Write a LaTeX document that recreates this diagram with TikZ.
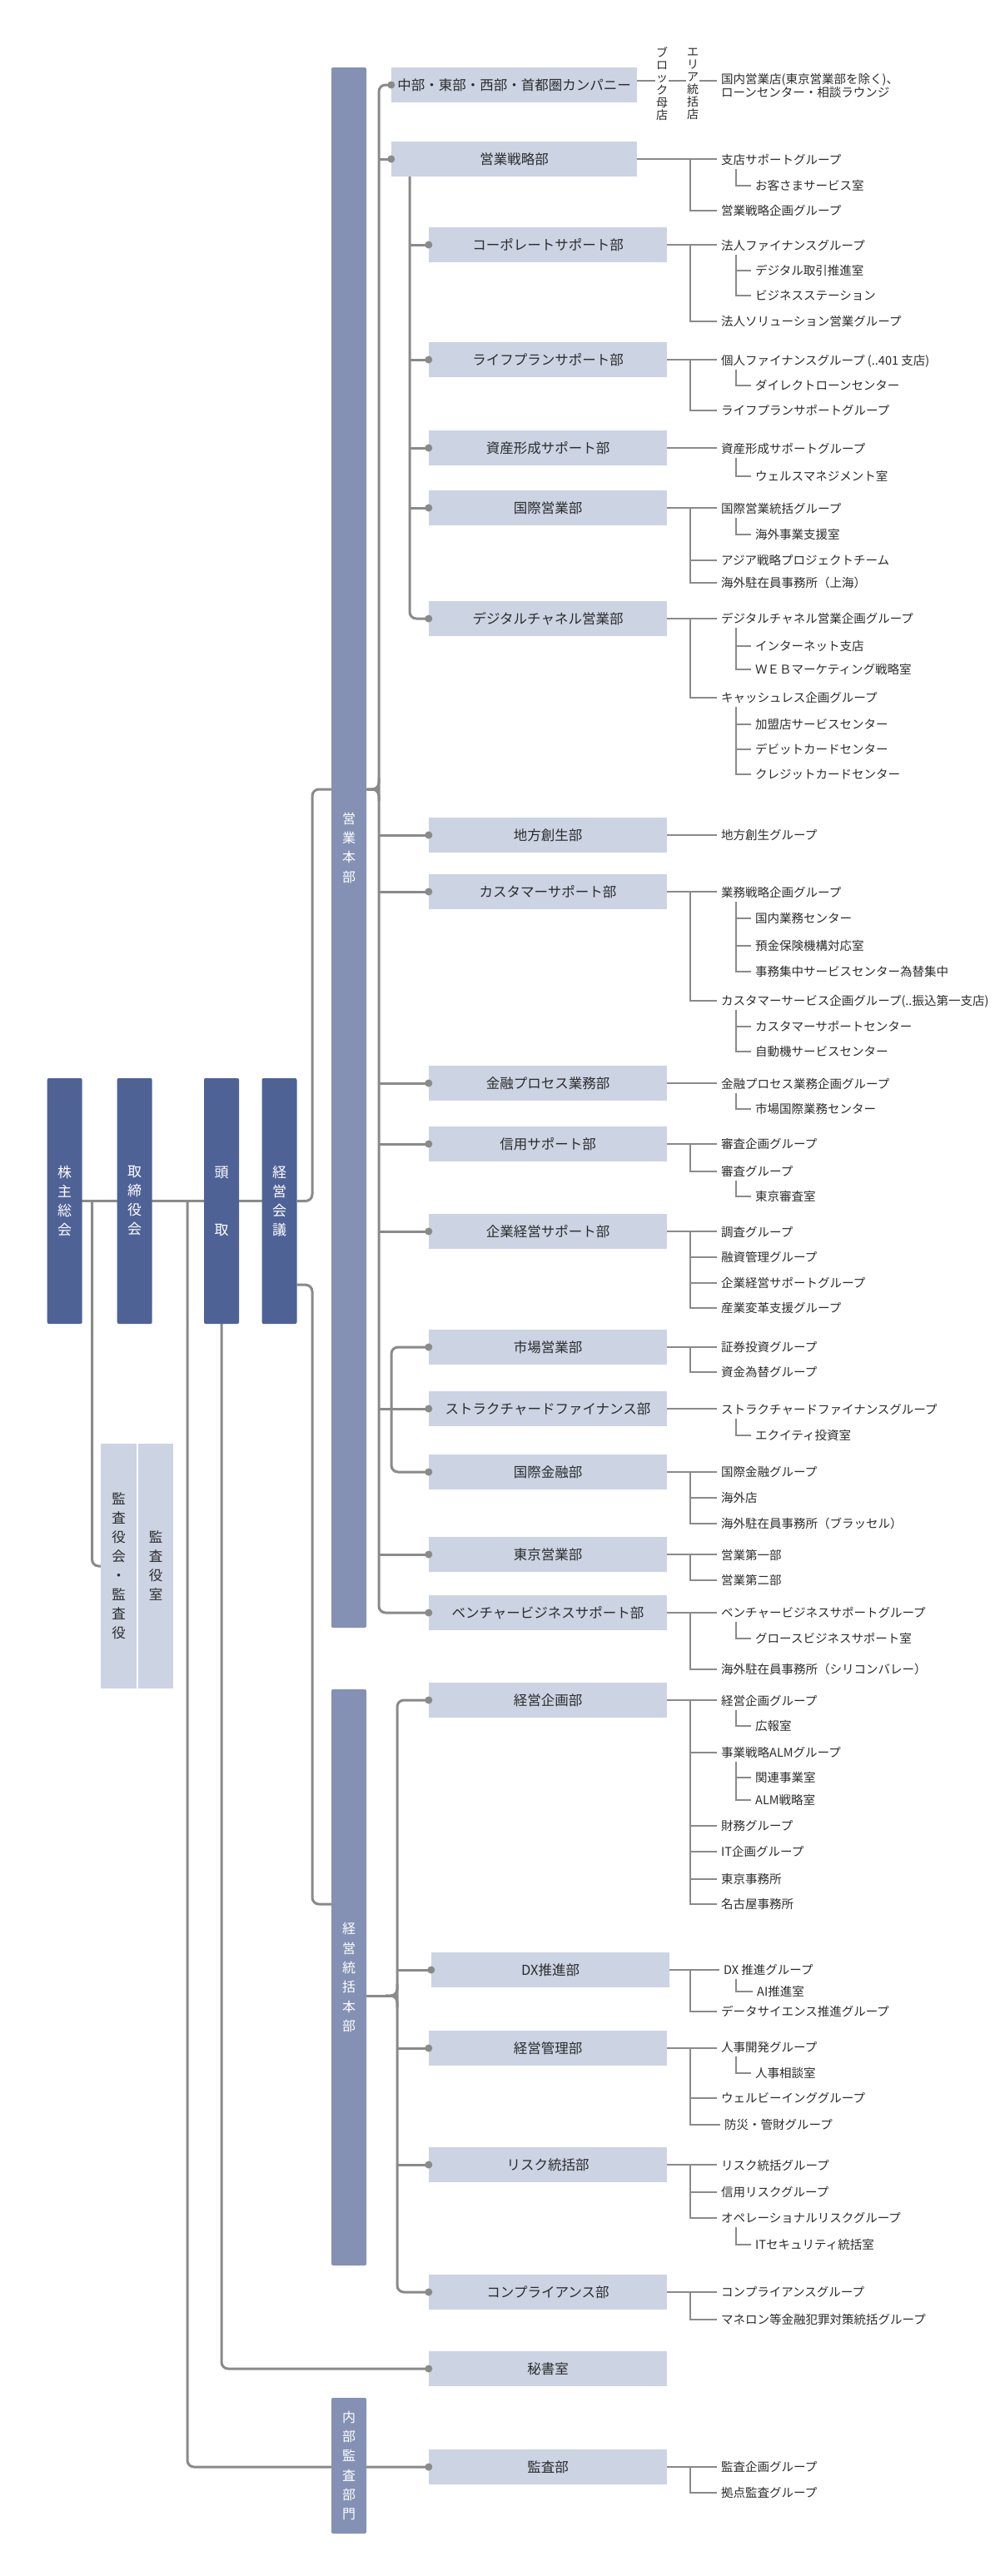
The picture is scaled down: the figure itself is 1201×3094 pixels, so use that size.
\documentclass[tikz,border=0pt]{standalone}
\usepackage{fontspec}
\setmainfont{Noto Sans CJK JP}
\usetikzlibrary{calc}
\pgfdeclarelayer{back}
\pgfdeclarelayer{bg}
\pgfsetlayers{back,bg,main}
\definecolor{linec}{HTML}{8A8A8A}
\definecolor{txtc}{HTML}{2C2C2C}
\definecolor{topc}{HTML}{4F6296}
\definecolor{barc}{HTML}{8491B5}
\definecolor{deptc}{HTML}{CCD3E3}
\newcommand\fDept{\fontsize{16.5}{18}\selectfont}
\newcommand\fGrp{\fontsize{14.5}{16}\selectfont}
\newcommand\fTop{\fontsize{17}{23}\selectfont}
\newcommand\fBar{\fontsize{16}{23.3}\selectfont}
\newcommand\fAud{\fontsize{16.5}{23}\selectfont}
\newcommand\fVl{\fontsize{14}{15}\selectfont}
\tikzset{
 dept/.style={rectangle, fill=deptc, minimum width=286, minimum height=42, inner sep=0, text=txtc, font=\fDept, text height=14.5, text depth=2},
 widedept/.style={dept, minimum width=295},
 grp/.style={anchor=west, inner sep=0, text=txtc, font=\fGrp, text height=12.8, text depth=1.7},
 grptwo/.style={anchor=north west, inner sep=0, text=txtc, font=\fGrp, align=left},
 topbox/.style={rectangle, rounded corners=2, fill=topc, minimum width=42, minimum height=295, inner sep=0, text=white, align=center, font=\fTop},
 barbox/.style={rectangle, rounded corners=2, fill=barc, minimum width=42, inner sep=0, text=white, align=center, font=\fBar},
 audbox/.style={rectangle, fill=deptc, minimum width=43, minimum height=294, inner sep=0, text=txtc, align=center, font=\fAud},
 vlab/.style={inner sep=0, text=txtc, align=center, font=\fVl},
 dot/.style={circle, fill=linec, inner sep=0, minimum size=9},
 trunk/.style={draw=linec, line width=3, rounded corners=8},
 glink/.style={draw=linec, line width=2.2},
}
\newcommand\grpA[3]{\node[grp] (#1) at (866,#2) {#3};}
\newcommand\grpB[3]{\node[grp] (#1) at (907,#2) {#3};}
\newcommand\cnH[2]{\draw[glink] (#1.east) -- ($(#1.east -| #2.west)+(-5,0)$);}
\newcommand\cnV[2]{\draw[glink] (vx |- #1.east) |- ($(#2.west)+(-5,0)$);}
\newcommand\cnS[1]{\draw[glink] (vx |- #1.west) -- ($(#1.west)+(-5,0)$);}
\newcommand\cnSub[2]{\draw[glink] ($(sx |- #1.west)+(0,11)$) |- ($(#2.west)+(-5,0)$);}
\newcommand\cnSm[1]{\draw[glink] (sx |- #1.west) -- ($(#1.west)+(-5,0)$);}
\begin{document}
\begin{tikzpicture}[x=1pt,y=-1pt]
\useasboundingbox (0,0) rectangle (1201,3094);
\begin{pgfonlayer}{back}
\fill[white] (0,0) rectangle (1201,3094);
\end{pgfonlayer}
% helper coordinates
\coordinate (tA) at (455,0);
\coordinate (tB) at (492,0);
\coordinate (tC) at (470,0);
\coordinate (tD) at (477,0);
\coordinate (tL) at (375,0);
\coordinate (tM) at (110.5,0);
\coordinate (tN) at (225,0);
\coordinate (vx) at (829,0);
\coordinate (sx) at (884,0);
\coordinate (jA) at (455,948);
\coordinate (jB) at (398,2287);
\coordinate (jC) at (477,2397);

% top-level boxes
\node[topbox] (kabu) at (77.7,1442.5) {株\\主\\総\\会};
\node[topbox] (tori) at (161.7,1442.5) {取\\締\\役\\会};
\node[topbox] (tou) at (266,1442.5) {頭\\[46pt]取};
\node[topbox] (keikai) at (335.5,1442.5) {経\\営\\会\\議};
\node[audbox] (kyaku) at (142.5,1881) {監\\査\\役\\会\\・\\監\\査\\役};
\node[audbox, minimum width=42] (kshitsu) at (187,1881) {監\\査\\役\\室};

% bars
\node[barbox, minimum height=1874] (eigyo) at (419,1018) {営\\業\\本\\部};
\node[barbox, minimum height=692] (keitou) at (419,2375) {経\\営\\統\\括\\本\\部};
\node[barbox, minimum height=163] (naibu) at (419,2961.5) {内\\部\\監\\査\\部\\門};

% departments
\node[widedept] (c0) at (617.5,102) {中部・東部・西部・首都圏カンパニー};
\node[widedept] (d1) at (617.5,191) {営業戦略部};
\node[dept] (d2) at (658,294) {コーポレートサポート部};
\node[dept] (d3) at (658,432) {ライフプランサポート部};
\node[dept] (d4) at (658,538) {資産形成サポート部};
\node[dept] (d5) at (658,610) {国際営業部};
\node[dept] (d6) at (658,743) {デジタルチャネル営業部};
\node[dept] (d7) at (658,1003) {地方創生部};
\node[dept] (d8) at (658,1071) {カスタマーサポート部};
\node[dept] (d9) at (658,1301) {金融プロセス業務部};
\node[dept] (d10) at (658,1374) {信用サポート部};
\node[dept] (d11) at (658,1479) {企業経営サポート部};
\node[dept] (d12) at (658,1618) {市場営業部};
\node[dept] (d13) at (658,1692) {ストラクチャードファイナンス部};
\node[dept] (d14) at (658,1768) {国際金融部};
\node[dept] (d15) at (658,1867) {東京営業部};
\node[dept] (d16) at (658,1937) {ベンチャービジネスサポート部};
\node[dept] (e1) at (658,2042) {経営企画部};
\node[dept] (e2) at (661,2366) {DX推進部};
\node[dept] (e3) at (658,2460) {経営管理部};
\node[dept] (e4) at (658,2600) {リスク統括部};
\node[dept] (e5) at (658,2753) {コンプライアンス部};
\node[dept] (s1) at (658,2845) {秘書室};
\node[dept] (a1) at (658,2963) {監査部};

% company side labels
\node[vlab] (blk) at (795,101) {ブ\\ロ\\ッ\\ク\\母\\店};
\node[vlab] (area) at (832,101) {エ\\リ\\ア\\統\\括\\店};
\node[grptwo] (kokunai) at (866,88.5) {国内営業店(東京営業部を除く)、\\ローンセンター・相談ラウンジ};

% groups
\grpA{g1a}{192}{支店サポートグループ}
\grpB{g1b}{223}{お客さまサービス室}
\grpA{g1c}{253}{営業戦略企画グループ}

\grpA{g2a}{295}{法人ファイナンスグループ}
\grpB{g2b}{325}{デジタル取引推進室}
\grpB{g2c}{355}{ビジネスステーション}
\grpA{g2d}{386}{法人ソリューション営業グループ}

\grpA{g3a}{433}{個人ファイナンスグループ (..401 支店)}
\grpB{g3b}{463}{ダイレクトローンセンター}
\grpA{g3c}{493}{ライフプランサポートグループ}

\grpA{g4a}{539}{資産形成サポートグループ}
\grpB{g4b}{572}{ウェルスマネジメント室}

\grpA{g5a}{611}{国際営業統括グループ}
\grpB{g5b}{642}{海外事業支援室}
\grpA{g5c}{673}{アジア戦略プロジェクトチーム}
\grpA{g5d}{700}{海外駐在員事務所（上海）}

\grpA{g6a}{743}{デジタルチャネル営業企画グループ}
\grpB{g6b}{776}{インターネット支店}
\grpB{g6c}{804}{ＷＥＢマーケティング戦略室}
\grpA{g6d}{838}{キャッシュレス企画グループ}
\grpB{g6e}{870}{加盟店サービスセンター}
\grpB{g6f}{900}{デビットカードセンター}
\grpB{g6g}{930}{クレジットカードセンター}

\grpA{g7a}{1003}{地方創生グループ}

\grpA{g8a}{1072}{業務戦略企画グループ}
\grpB{g8b}{1103}{国内業務センター}
\grpB{g8c}{1136}{預金保険機構対応室}
\grpB{g8d}{1167}{事務集中サービスセンター為替集中}
\grpA{g8e}{1202}{カスタマーサービス企画グループ(..振込第一支店)}
\grpB{g8f}{1233}{カスタマーサポートセンター}
\grpB{g8g}{1263}{自動機サービスセンター}

\grpA{g9a}{1302}{金融プロセス業務企画グループ}
\grpB{g9b}{1332}{市場国際業務センター}

\grpA{g10a}{1374}{審査企画グループ}
\grpA{g10b}{1407}{審査グループ}
\grpB{g10c}{1437}{東京審査室}

\grpA{g11a}{1480}{調査グループ}
\grpA{g11b}{1510}{融資管理グループ}
\grpA{g11c}{1541}{企業経営サポートグループ}
\grpA{g11d}{1571}{産業変革支援グループ}

\grpA{g12a}{1618}{証券投資グループ}
\grpA{g12b}{1648}{資金為替グループ}

\grpA{g13a}{1693}{ストラクチャードファイナンスグループ}
\grpB{g13b}{1724}{エクイティ投資室}

\grpA{g14a}{1768}{国際金融グループ}
\grpA{g14b}{1799}{海外店}
\grpA{g14c}{1830}{海外駐在員事務所（ブラッセル）}

\grpA{g15a}{1868}{営業第一部}
\grpA{g15b}{1898}{営業第二部}

\grpA{g16a}{1937}{ベンチャービジネスサポートグループ}
\grpB{g16b}{1968}{グロースビジネスサポート室}
\grpA{g16c}{2005}{海外駐在員事務所（シリコンバレー）}

\grpA{h1a}{2043}{経営企画グループ}
\grpB{h1b}{2073}{広報室}
\grpA{h1c}{2105}{事業戦略ALMグループ}
\grpB{h1d}{2135}{関連事業室}
\grpB{h1e}{2162}{ALM戦略室}
\grpA{h1f}{2193}{財務グループ}
\grpA{h1g}{2224}{IT企画グループ}
\grpA{h1h}{2257}{東京事務所}
\grpA{h1i}{2287}{名古屋事務所}

\node[grp] (h2a) at (869,2366) {DX 推進グループ};
\node[grp] (h2b) at (909,2392) {AI推進室};
\grpA{h2c}{2416}{データサイエンス推進グループ}

\grpA{h3a}{2459}{人事開発グループ}
\grpB{h3b}{2490}{人事相談室}
\grpA{h3c}{2520}{ウェルビーインググループ}
\node[grp] (h3d) at (870,2552) {防災・管財グループ};

\grpA{h4a}{2601}{リスク統括グループ}
\grpA{h4b}{2633}{信用リスクグループ}
\grpA{h4c}{2664}{オペレーショナルリスクグループ}
\grpB{h4d}{2696}{ITセキュリティ統括室}

\grpA{h5a}{2753}{コンプライアンスグループ}
\grpA{h5b}{2786}{マネロン等金融犯罪対策統括グループ}

\grpA{k1a}{2963}{監査企画グループ}
\grpA{k1b}{2994}{拠点監査グループ}

% ---------- connectors ----------
\begin{pgfonlayer}{bg}
% top-level chain
\draw[trunk] (kabu.center) -- (keikai.center);
\draw[trunk] (keikai.east) -| (tL |- jA) -- (jA);
\draw[trunk] ($(jA)+(-14,0)$) -| ($(jA)+(0,-14)$);
\draw[trunk] ($(jA)+(-14,0)$) -| ($(jA)+(0,14)$);
\coordinate (klow) at ($(keikai.south east)+(0,-47)$);
\draw[trunk] (klow) -| (tL |- jB) -- (jB);
\draw[trunk] (keitou.east |- jC) -- (jC);
\draw[trunk] ($(jC)+(-14,0)$) -| ($(jC)+(0,-14)$);
\draw[trunk] ($(jC)+(-14,0)$) -| ($(jC)+(0,14)$);
\draw[trunk] (tM |- kabu.east) |- (kyaku.west);
\draw[trunk] (tN |- kabu.east) |- (a1.west);
\draw[trunk] (tou.south) |- (s1.west);

% sales trunks
\draw[trunk] (c0.west) -| (tA |- d16.west) -- (d16.west);
\foreach \n in {d1,d7,d8,d9,d10,d11,d13,d15} \draw[trunk] (tA |- \n.west) -- (\n.west);
\draw[trunk] (tB |- d1.south) |- (d6.west);
\foreach \n in {d2,d3,d4,d5} \draw[trunk] (tB |- \n.west) -- (\n.west);
\draw[trunk] (d12.west) -| (tC |- d14.west) -- (d14.west);
% management trunk
\draw[trunk] (e1.west) -| (tD |- e5.west) -- (e5.west);
\foreach \n in {e2,e3,e4} \draw[trunk] (tD |- \n.west) -- (\n.west);

% company line
\draw[glink] ($(c0.east)+(0,-5)$) -- ($(c0.east -| blk.west)+(-1,-5)$);
\draw[glink] ($(c0.east -| blk.east)+(1,-5)$) -- ($(c0.east -| area.west)+(-1,-5)$);
\draw[glink] ($(c0.east -| area.east)+(1,-5)$) -- ($(c0.east -| kokunai.west)+(-5,-5)$);

% group connectors
\cnH{d1}{g1a} \cnV{d1}{g1c} \cnSub{g1a}{g1b}
\cnH{d2}{g2a} \cnV{d2}{g2d} \cnSub{g2a}{g2c} \cnSm{g2b}
\cnH{d3}{g3a} \cnV{d3}{g3c} \cnSub{g3a}{g3b}
\cnH{d4}{g4a} \cnSub{g4a}{g4b}
\cnH{d5}{g5a} \cnV{d5}{g5d} \cnS{g5c} \cnSub{g5a}{g5b}
\cnH{d6}{g6a} \cnV{d6}{g6d} \cnSub{g6a}{g6c} \cnSm{g6b} \cnSub{g6d}{g6g} \cnSm{g6e} \cnSm{g6f}
\cnH{d7}{g7a}
\cnH{d8}{g8a} \cnV{d8}{g8e} \cnSub{g8a}{g8d} \cnSm{g8b} \cnSm{g8c} \cnSub{g8e}{g8g} \cnSm{g8f}
\cnH{d9}{g9a} \cnSub{g9a}{g9b}
\cnH{d10}{g10a} \cnV{d10}{g10b} \cnSub{g10b}{g10c}
\cnH{d11}{g11a} \cnV{d11}{g11d} \cnS{g11b} \cnS{g11c}
\cnH{d12}{g12a} \cnV{d12}{g12b}
\cnH{d13}{g13a} \cnSub{g13a}{g13b}
\cnH{d14}{g14a} \cnV{d14}{g14c} \cnS{g14b}
\cnH{d15}{g15a} \cnV{d15}{g15b}
\cnH{d16}{g16a} \cnV{d16}{g16c} \cnSub{g16a}{g16b}
\cnH{e1}{h1a} \cnV{e1}{h1i} \cnS{h1c} \cnS{h1f} \cnS{h1g} \cnS{h1h} \cnSub{h1a}{h1b} \cnSub{h1c}{h1e} \cnSm{h1d}
\cnH{e2}{h2a} \cnV{e2}{h2c} \cnSub{h2a}{h2b}
\cnH{e3}{h3a} \cnV{e3}{h3d} \cnS{h3c} \cnSub{h3a}{h3b}
\cnH{e4}{h4a} \cnV{e4}{h4c} \cnS{h4b} \cnSub{h4c}{h4d}
\cnH{e5}{h5a} \cnV{e5}{h5b}
\cnH{a1}{k1a} \cnV{a1}{k1b}
\end{pgfonlayer}

% dots
\foreach \n in {c0,d1,d2,d3,d4,d5,d6,d7,d8,d9,d10,d11,d12,d13,d14,d15,d16,e1,e2,e3,e4,e5,s1,a1}
  \node[dot] (dot-\n) at (\n.west) {};
\end{tikzpicture}
\end{document}
